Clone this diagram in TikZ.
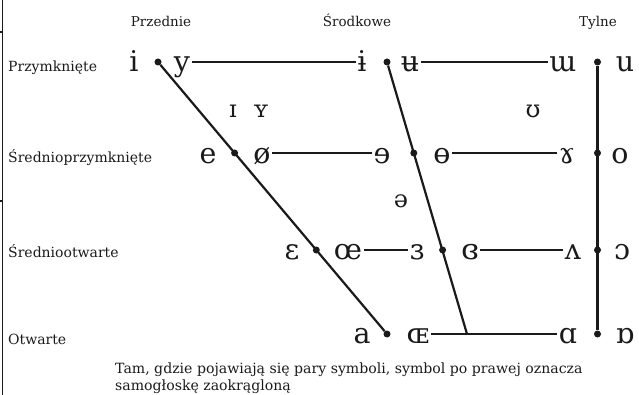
\documentclass[tikz,border=0pt]{standalone}
\usepackage{fontspec}
\setmainfont{DejaVu Serif}
\definecolor{ink}{HTML}{1A1A1A}
\begin{document}
\begin{tikzpicture}[x=1pt,y=-1pt,
  vowel/.style={font=\fontsize{28.5}{28}\selectfont, anchor=base, inner sep=1.5pt, text=ink},
  minor/.style={font=\fontsize{24}{24}\selectfont, anchor=base, inner sep=1pt, text=ink},
  rowlabel/.style={font=\fontsize{14}{16}\selectfont, anchor=base west, inner sep=0pt, text=ink},
  colhead/.style={font=\fontsize{13.5}{16}\selectfont, anchor=base, inner sep=0pt, text=ink},
  note/.style={font=\fontsize{14.1}{16}\selectfont, anchor=base west, inner sep=0pt, text=ink},
  pt/.style={circle, fill=ink, inner sep=0pt, minimum size=7pt},
  edge/.style={draw=ink, line width=2.2pt},
  frame/.style={draw=ink, line width=1.5pt}]
\useasboundingbox (0,0) rectangle (639,395);

% page edge on the left
\coordinate (e-top) at (2.5,0);
\coordinate (e-bot) at (2.5,395);
\coordinate (t1a) at (0,32);
\coordinate (t1b) at (2.5,32);
\coordinate (t2a) at (0,201);
\coordinate (t2b) at (2.5,201);
\draw[frame] (e-top) -- (e-bot);
\draw[frame] (t1a) -- (t1b);
\draw[frame] (t2a) -- (t2b);

% column headings
\node[colhead] (h-front) at (161,27) {Przednie};
\node[colhead] (h-central) at (357,27) {Środkowe};
\node[colhead] (h-back) at (598,27) {Tylne};

% row headings
\node[rowlabel] (r-close) at (8,72) {Przymknięte};
\node[rowlabel] (r-closemid) at (8,163) {Średnioprzymknięte};
\node[rowlabel] (r-openmid) at (8,258) {Średniootwarte};
\node[rowlabel] (r-open) at (8,344) {Otwarte};

% dots on the three vertical guides
\node[pt] (d1f) at (158,62) {};
\node[pt] (d2f) at (234.6,153) {};
\node[pt] (d3f) at (316.3,250) {};
\node[pt] (d4f) at (387,334) {};
\node[pt] (d1c) at (387,62) {};
\node[pt] (d2c) at (413.8,153) {};
\node[pt] (d3c) at (442.6,250) {};
\coordinate (d4c) at (467,334);
\node[pt] (d1b) at (597.5,62) {};
\node[pt] (d2b) at (597.5,153) {};
\node[pt] (d3b) at (597.5,250) {};
\node[pt] (d4b) at (597.5,334) {};

% vowels: close
\node[vowel] (v-i) at (134,72) {i};
\node[vowel] (v-y) at (182,72) {y};
\node[vowel] (v-ibar) at (362,72) {ɨ};
\node[vowel] (v-ubar) at (410,72) {ʉ};
\node[vowel] (v-turnm) at (563,72) {ɯ};
\node[vowel] (v-u) at (625,72) {u};
% close-mid
\node[vowel] (v-e) at (208,164) {e};
\node[vowel] (v-oslash) at (262,164) {ø};
\node[vowel] (v-reve) at (382,164) {ɘ};
\node[vowel] (v-obar) at (442,164) {ɵ};
\node[vowel] (v-gamma) at (567,164) {ɤ};
\node[vowel] (v-o) at (620,164) {o};
% open-mid
\node[vowel] (v-eps) at (292,259) {ɛ};
\node[vowel] (v-oe) at (348,259) {œ};
\node[vowel] (v-reveps) at (417,259) {ɜ};
\node[vowel] (v-closedeps) at (470,259) {ɞ};
\node[vowel] (v-wedge) at (573,259) {ʌ};
\node[vowel] (v-openo) at (622,259) {ɔ};
% open
\node[vowel] (v-a) at (362,343) {a};
\node[vowel] (v-OE) at (418,343) {ɶ};
\node[vowel] (v-alpha) at (568,343) {ɑ};
\node[vowel] (v-turnalpha) at (625,343) {ɒ};
% near-close and mid vowels
\node[minor] (v-smi) at (233,118) {ɪ};
\node[minor] (v-smy) at (261,118) {ʏ};
\node[minor] (v-ups) at (533,118) {ʊ};
\node[minor] (v-schwa) at (401,208) {ə};

% guides
\draw[edge] (d1f) -- (d4f);
\draw[edge] (d1c) -- (d4c);
\draw[edge] (d1b) -- (d4b);

% rows
\draw[edge] (v-y.east |- d1f) -- (v-ibar.west |- d1f);
\draw[edge] (v-ubar.east |- d1f) -- (v-turnm.west |- d1f);
\draw[edge] (v-oslash.east |- d2f) -- (v-reve.west |- d2f);
\draw[edge] (v-obar.east |- d2f) -- (v-gamma.west |- d2f);
\draw[edge] (v-oe.east |- d3f) -- (v-reveps.west |- d3f);
\draw[edge] (v-closedeps.east |- d3f) -- (v-wedge.west |- d3f);
\draw[edge] (v-OE.east |- d4f) -- (v-alpha.west |- d4f);

% note
\node[note] (n1) at (115,373) {Tam, gdzie pojawiają się pary symboli, symbol po prawej oznacza};
\node[note] (n2) at (115,390) {samogłoskę zaokrągloną};
\end{tikzpicture}
\end{document}
